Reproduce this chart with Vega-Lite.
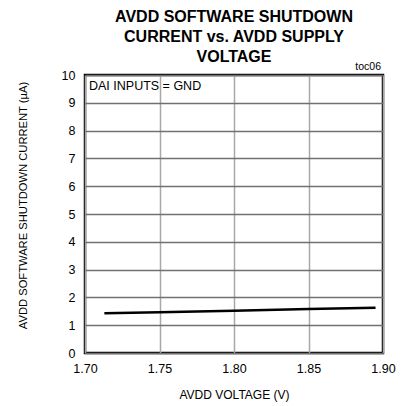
{
  "$schema": "https://vega.github.io/schema/vega-lite/v6.json",
  "width": 298,
  "height": 278,
  "autosize": {"type": "none"},
  "padding": {"left": 85, "top": 75, "right": 20, "bottom": 53},
  "background": "white",
  "title": {
    "text": ["AVDD SOFTWARE SHUTDOWN", "CURRENT vs. AVDD SUPPLY", "VOLTAGE"],
    "font": "Liberation Sans",
    "fontSize": 16,
    "fontWeight": "bold",
    "lineHeight": 20,
    "anchor": "middle",
    "offset": -3,
    "color": "black"
  },
  "config": {
    "font": "Liberation Sans",
    "view": {"stroke": "black", "strokeWidth": 2.5},
    "axis": {
      "labelFont": "Liberation Sans",
      "titleFont": "Liberation Sans",
      "labelFontSize": 12.5,
      "titleFontSize": 12,
      "titleFontWeight": "normal",
      "labelColor": "black",
      "titleColor": "black",
      "ticks": false,
      "domain": false,
      "gridWidth": 1.5,
      "labelOverlap": false,
      "labelFlush": false
    }
  },
  "layer": [
    {
      "data": {
        "values": [
          {"v": 1.713, "i": 1.43},
          {"v": 1.75, "i": 1.47},
          {"v": 1.80, "i": 1.52},
          {"v": 1.85, "i": 1.58},
          {"v": 1.895, "i": 1.63}
        ]
      },
      "mark": {"type": "line", "color": "black", "strokeWidth": 2.5},
      "encoding": {
        "x": {
          "field": "v", "type": "quantitative",
          "scale": {"domain": [1.7, 1.9], "nice": false, "zero": false},
          "axis": {"values": [1.7, 1.75, 1.8, 1.85, 1.9], "format": ".2f", "title": "AVDD VOLTAGE (V)", "labelPadding": 9, "titlePadding": 15, "gridColor": "#a8a8a8"}
        },
        "y": {
          "field": "i", "type": "quantitative",
          "scale": {"domain": [0, 10], "nice": false},
          "axis": {"values": [0, 1, 2, 3, 4, 5, 6, 7, 8, 9, 10], "title": "AVDD SOFTWARE SHUTDOWN CURRENT (µA)", "titleFontSize": 11.2, "labelPadding": 10, "titleX": -62, "titleY": 130, "titleAlign": "center", "titleBaseline": "middle", "gridColor": "#707070"}
        }
      }
    },
    {
      "data": {"values": [{"v": 1.9, "i": 10, "label": "toc06"}]},
      "mark": {"type": "text", "align": "right", "baseline": "bottom", "dy": -3, "dx": -2, "fontSize": 10.5, "fontWeight": "normal", "color": "black"},
      "encoding": {
        "x": {"field": "v", "type": "quantitative", "axis": {"values": [1.7, 1.75, 1.8, 1.85, 1.9], "format": ".2f", "title": "AVDD VOLTAGE (V)", "labelPadding": 9, "titlePadding": 15, "gridColor": "#a8a8a8"}},
        "y": {"field": "i", "type": "quantitative", "axis": {"values": [0, 1, 2, 3, 4, 5, 6, 7, 8, 9, 10], "title": "AVDD SOFTWARE SHUTDOWN CURRENT (µA)", "titleFontSize": 11.2, "labelPadding": 10, "titleX": -62, "titleY": 130, "titleAlign": "center", "titleBaseline": "middle", "gridColor": "#707070"}},
        "text": {"field": "label"}
      }
    },
    {
      "data": {"values": [{"v": 1.7, "i": 10, "label": "DAI INPUTS = GND"}]},
      "mark": {"type": "text", "align": "left", "baseline": "top", "dx": 4, "dy": 5, "fontSize": 12.5, "fontWeight": "normal", "color": "black"},
      "encoding": {
        "x": {"field": "v", "type": "quantitative", "axis": {"values": [1.7, 1.75, 1.8, 1.85, 1.9], "format": ".2f", "title": "AVDD VOLTAGE (V)", "labelPadding": 9, "titlePadding": 15, "gridColor": "#a8a8a8"}},
        "y": {"field": "i", "type": "quantitative", "axis": {"values": [0, 1, 2, 3, 4, 5, 6, 7, 8, 9, 10], "title": "AVDD SOFTWARE SHUTDOWN CURRENT (µA)", "titleFontSize": 11.2, "labelPadding": 10, "titleX": -62, "titleY": 130, "titleAlign": "center", "titleBaseline": "middle", "gridColor": "#707070"}},
        "text": {"field": "label"}
      }
    }
  ]
}
